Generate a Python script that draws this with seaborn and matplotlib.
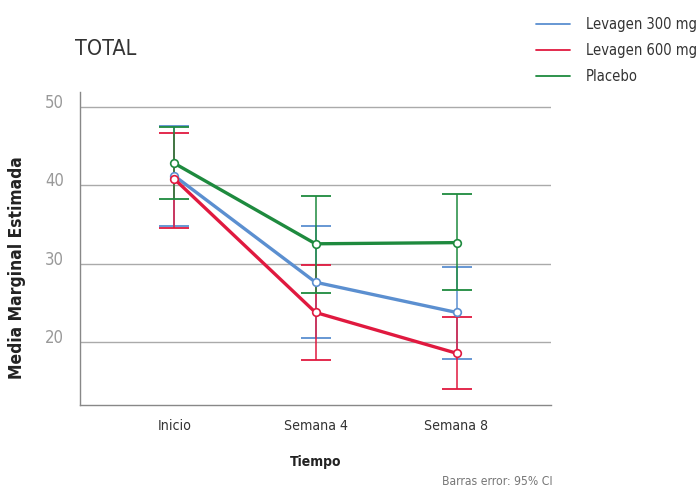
import pandas as pd
import matplotlib
matplotlib.use("Agg")
import matplotlib.pyplot as plt
from matplotlib.lines import Line2D
from matplotlib.transforms import ScaledTranslation
import seaborn as sns

# datos
tiempos = ["Inicio", "Semana 4", "Semana 8"]
grupos = ["Levagen 300 mg", "Levagen 600 mg", "Placebo"]
media_300 = [41.2, 27.65, 23.8]
media_600 = [40.8, 23.8, 18.6]
media_placebo = [42.8, 32.55, 32.7]
sup_300 = [47.6, 34.8, 29.65]
inf_300 = [34.8, 20.5, 17.9]
sup_600 = [46.7, 29.9, 23.2]
inf_600 = [34.6, 17.7, 14.0]
sup_placebo = [47.4, 38.6, 38.85]
inf_placebo = [38.2, 26.3, 26.6]
colores = ["#5b8fd0", "#e0193f", "#1e8a3e"]

sns.set_theme(style="white")
plt.rcParams['font.family'] = ['DejaVu Sans']
plt.rcParams['font.stretch'] = 'condensed'

filas = []
for g, med in zip(grupos, [media_300, media_600, media_placebo]):
    for i, t in enumerate(tiempos):
        filas.append({"grupo": g, "x": i, "media": med[i]})
df = pd.DataFrame(filas)

fig = plt.figure(figsize=(7, 4.9), dpi=100)
ax = fig.add_axes([80 / 700, 1 - 405 / 490, (551 - 80) / 700, (405 - 92) / 490])

sns.lineplot(data=df, x="x", y="media", hue="grupo", palette=colores,
             hue_order=grupos, linewidth=2.4, marker="o", markersize=5.5,
             legend=False, ax=ax, zorder=3)
for ln, c in zip(ax.lines, colores):
    ln.set_markerfacecolor("white")
    ln.set_markeredgecolor(c)
    ln.set_markeredgewidth(1.2)

# barras de error (IC 95%)
limites = [(sup_300, inf_300), (sup_600, inf_600), (sup_placebo, inf_placebo)]
for (sup, inf), med, c in zip(limites, [media_300, media_600, media_placebo], colores):
    xs = list(range(len(tiempos)))
    err_low = [m - l for m, l in zip(med, inf)]
    err_high = [s - m for m, s in zip(med, sup)]
    ax.errorbar(xs, med, yerr=[err_low, err_high], fmt="none", ecolor=c,
                elinewidth=1.1, capsize=11, capthick=1.3, zorder=2)

ax.set_xlim(-0.67, 2.67)
ax.set_ylim(12, 51.9)
ax.set_yticks([20, 30, 40, 50])
ax.set_xticks(range(len(tiempos)))
ax.set_xticklabels(tiempos)
ax.yaxis.grid(True, color="#aaaaaa", linewidth=1.0)
ax.set_axisbelow(True)
for lado in ["top", "right"]:
    ax.spines[lado].set_visible(False)
for lado in ["left", "bottom"]:
    ax.spines[lado].set_color("#888888")
    ax.spines[lado].set_linewidth(1.0)
ax.tick_params(axis="y", colors="#999999", labelsize=12, length=0, pad=11.5)
ax.tick_params(axis="x", colors="#333333", labelsize=10.2, length=0, pad=10)
# las etiquetas del eje y van un poco por encima de la linea
for lab in ax.get_yticklabels():
    lab.set_transform(lab.get_transform() + ScaledTranslation(0, 0.06, fig.dpi_scale_trans))
ax.set_xlabel("Tiempo", fontsize=10, fontweight="bold", color="#222222", labelpad=16)
ax.set_ylabel("Media Marginal Estimada", fontsize=12.5, fontweight="bold",
              color="#222222")
ax.yaxis.set_label_coords(-0.115, 0.44)

fig.text(75 / 700, 1 - 49 / 490, "TOTAL", fontsize=15.5, color="#333333", va="center")
fig.text(553 / 700, 1 - 481 / 490, "Barras error: 95% CI", fontsize=8.7,
         color="#777777", ha="right", va="center")

handles = [Line2D([0], [0], color=c, linewidth=1.3) for c in colores]
fig.legend(handles, grupos, loc="upper left", bbox_to_anchor=(523 / 700, 1 - 4 / 490),
           frameon=False, fontsize=10.5, handlelength=2.3, handletextpad=1.1,
           labelspacing=0.75, labelcolor="#333333")

fig.savefig("out.png", dpi=100)
